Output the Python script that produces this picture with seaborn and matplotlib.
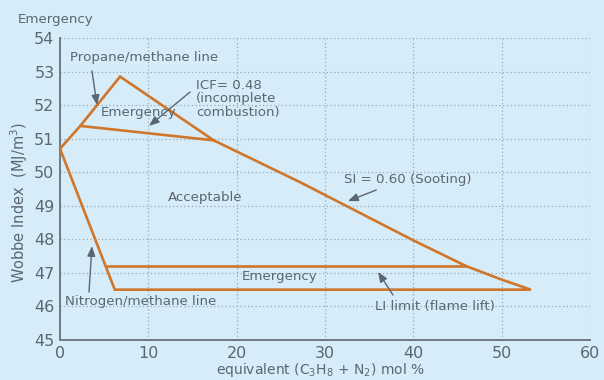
import matplotlib
matplotlib.use("Agg")
import matplotlib.pyplot as plt
import seaborn as sns
import pandas as pd

# Outer boundary of the operating envelope: propane/methane line up to the
# peak, sooting (SI) limit down to the lift limit, then the nitrogen/methane line
outer_x = [0, 2.3, 6.8, 17.4, 27.2, 40.0, 46.0, 50.0, 53.3, 6.2, 0]
outer_y = [50.7, 51.38, 52.85, 50.95, 49.7, 47.97, 47.2, 46.8, 46.5, 46.5, 50.7]

# Incomplete combustion (ICF) boundary
icf_x = [2.3, 17.4]
icf_y = [51.38, 50.95]

# Upper edge of the lower emergency band
band_x = [5.3, 46.0]
band_y = [47.2, 47.2]

x_ticks = [0, 10, 20, 30, 40, 50, 60]
y_ticks = [45, 46, 47, 48, 49, 50, 51, 52, 53, 54]

BG = "#d6ecf9"
ORANGE = "#d0762b"
TEXT = "#5b6670"
AXIS = "#6f7a84"
GRID = "#98a9b5"

sns.set_theme(style="white")
plt.rcParams["font.family"] = ["DejaVu Sans"]

fig = plt.figure(figsize=(6.04, 3.80), dpi=100, facecolor=BG)
ax = fig.add_axes([60 / 604, 1 - 340 / 380, 530 / 604, 302 / 380])
ax.set_facecolor(BG)

lines = [
    pd.DataFrame({"x": outer_x, "y": outer_y, "seg": "outer"}),
    pd.DataFrame({"x": icf_x, "y": icf_y, "seg": "icf"}),
    pd.DataFrame({"x": band_x, "y": band_y, "seg": "band"}),
]
for df in lines:
    sns.lineplot(data=df, x="x", y="y", sort=False, estimator=None,
                 color=ORANGE, linewidth=1.9, ax=ax, zorder=3,
                 solid_joinstyle="miter")

ax.set_xlim(0, 60)
ax.set_ylim(45, 54)
ax.set_xticks(x_ticks)
ax.set_yticks(y_ticks)
ax.tick_params(axis="both", length=0, labelsize=11.5, colors=TEXT, pad=4)
ax.grid(True, color=GRID, linestyle=(0, (1, 2)), linewidth=0.9)
ax.set_axisbelow(True)
for s in ["top", "right"]:
    ax.spines[s].set_visible(False)
for s in ["left", "bottom"]:
    ax.spines[s].set_color(AXIS)
    ax.spines[s].set_linewidth(1.4)
ax.set_xlabel("")
ax.set_ylabel("")

fs = 9.6
arrow = dict(arrowstyle="-|>,head_length=0.5,head_width=0.2",
             color=TEXT, lw=1.0, shrinkA=0, shrinkB=0)

def note(tail, head):
    ax.annotate("", xy=head, xytext=tail, arrowprops=arrow, zorder=4)

ax.text(1.1, 53.43, "Propane/methane line", fontsize=fs, color=TEXT,
        ha="left", va="center")
note((3.62, 53.02), (4.19, 52.0))

ax.text(8.95, 51.79, "Emergency", fontsize=fs, color=TEXT,
        ha="center", va="center")

ax.text(15.4, 52.78, "ICF= 0.48\n(incomplete\ncombustion)", fontsize=fs,
        color=TEXT, ha="left", va="top", linespacing=1.05)
note((14.72, 52.39), (10.08, 51.38))

ax.text(16.4, 49.26, "Acceptable", fontsize=fs, color=TEXT,
        ha="center", va="center")

ax.text(32.2, 49.77, "SI = 0.60 (Sooting)", fontsize=fs, color=TEXT,
        ha="left", va="center")
note((35.8, 49.47), (32.6, 49.14))

ax.text(24.9, 46.88, "Emergency", fontsize=fs, color=TEXT,
        ha="center", va="center")

ax.text(42.4, 46.01, "LI limit (flame lift)", fontsize=fs, color=TEXT,
        ha="center", va="center")
note((37.7, 46.34), (36.0, 47.03))

ax.text(0.55, 46.16, "Nitrogen/methane line", fontsize=fs, color=TEXT,
        ha="left", va="center")
note((3.28, 46.43), (3.62, 47.8))

fig.text(56 / 604, 1 - 19 / 380, "Emergency", fontsize=fs, color=TEXT,
         ha="center", va="center")
fig.text(19 / 604, 1 - 203 / 380, "Wobbe Index  (MJ/m$^3$)", fontsize=10.5,
         color=TEXT, rotation=90, ha="center", va="center")
fig.text(320 / 604, 1 - 361 / 380, "equivalent (C$_3$H$_8$ + N$_2$) mol %",
         fontsize=10, color=TEXT, ha="center", va="top")

fig.savefig("out.png", dpi=100, facecolor=BG)
